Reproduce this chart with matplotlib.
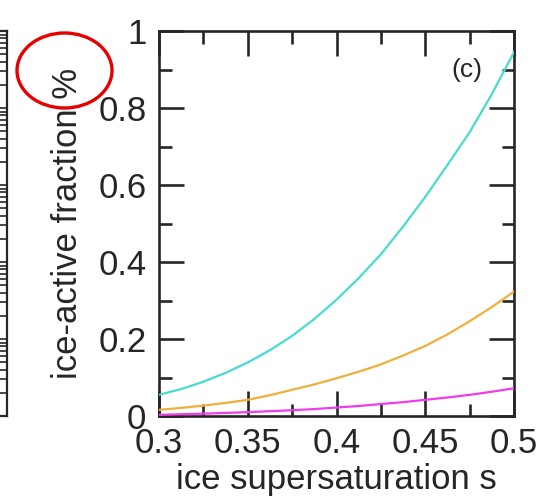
import matplotlib.pyplot as plt
from matplotlib.patches import Ellipse
from matplotlib.ticker import LogLocator, NullFormatter

plt.rcParams["font.family"] = ["Liberation Sans", "DejaVu Sans"]

# values
s_values = [0.30, 0.3125, 0.325, 0.3375, 0.35, 0.3625, 0.375, 0.3875, 0.40,
            0.4125, 0.425, 0.4375, 0.45, 0.4625, 0.475, 0.4875, 0.50]
frac_cyan = [0.055, 0.070, 0.089, 0.112, 0.139, 0.171, 0.208, 0.252, 0.302,
             0.358, 0.420, 0.492, 0.569, 0.652, 0.737, 0.836, 0.945]
frac_orange = [0.016, 0.021, 0.027, 0.034, 0.042, 0.054, 0.068, 0.082, 0.098,
               0.115, 0.134, 0.157, 0.182, 0.212, 0.246, 0.283, 0.323]
frac_magenta = [0.003, 0.0045, 0.006, 0.008, 0.010, 0.0125, 0.015, 0.018, 0.022,
                0.026, 0.031, 0.036, 0.042, 0.048, 0.055, 0.063, 0.072]

x_ticks = [0.3, 0.35, 0.4, 0.45, 0.5]
x_ticklabels = ["0.3", "0.35", "0.4", "0.45", "0.5"]
y_ticks = [0, 0.2, 0.4, 0.6, 0.8, 1.0]
y_ticklabels = ["0", "0.2", "0.4", "0.6", "0.8", "1"]

ink = "#262626"
W, H = 559, 503

fig = plt.figure(figsize=(W / 100, H / 100), dpi=100)

# main panel
left, right, top, bottom = 159, 514, 31, 416
ax = fig.add_axes([left / W, 1 - bottom / H, (right - left) / W, (bottom - top) / H])

ax.plot(s_values, frac_cyan, color="#48DCCB", lw=1.6, zorder=3)
ax.plot(s_values, frac_orange, color="#F0AF3C", lw=1.6, zorder=3)
ax.plot(s_values, frac_magenta, color="#F03CEB", lw=1.6, zorder=3)

ax.set_xlim(0.3, 0.5)
ax.set_ylim(0, 1)
ax.set_xticks(x_ticks)
ax.set_xticklabels(x_ticklabels)
ax.set_yticks(y_ticks)
ax.set_yticklabels(y_ticklabels)
ax.set_xticks([0.325, 0.375, 0.425, 0.475], minor=True)
ax.set_yticks([0.1, 0.3, 0.5, 0.7, 0.9], minor=True)

ax.tick_params(which="both", direction="in", top=True, right=True,
               color=ink, width=1.9, labelsize=25, labelcolor=ink)
ax.tick_params(which="major", length=18)
ax.tick_params(which="minor", length=9)
ax.tick_params(axis="x", pad=8)
ax.tick_params(axis="y", pad=9)

for spine in ax.spines.values():
    spine.set_color(ink)
    spine.set_linewidth(1.9)

ax.set_xlabel("ice supersaturation s", fontsize=25, color=ink, labelpad=2)
ax.set_ylabel("ice-active fraction %", fontsize=25, color=ink, labelpad=10)

ax.text(467 / W, 1 - 70 / H, "(c)", transform=fig.transFigure, fontsize=19,
        color=ink, ha="center", va="center")

# edge of the neighbouring panel, mostly cut off
ax_prev = fig.add_axes([-0.3, 1 - bottom / H, 0.3 + 7 / W, (bottom - top) / H])
ax_prev.set_yscale("log")
ax_prev.set_ylim(1e-5, 1)
ax_prev.set_xticks([])
ax_prev.yaxis.set_major_locator(LogLocator(base=10, numticks=10))
ax_prev.yaxis.set_minor_locator(LogLocator(base=10, subs=range(2, 10), numticks=10))
ax_prev.yaxis.set_minor_formatter(NullFormatter())
ax_prev.tick_params(which="both", direction="in", left=False, right=True,
                    labelleft=False, color=ink, width=1.2)
ax_prev.tick_params(which="major", length=12)
ax_prev.tick_params(which="minor", length=7)
for spine in ax_prev.spines.values():
    spine.set_color(ink)
    spine.set_linewidth(1.6)

# red highlight around the % sign
fig.add_artist(Ellipse((64.5 / W, 1 - 70.5 / H), 95 / W, 75 / H,
                       transform=fig.transFigure, fill=False,
                       edgecolor="#E60000", linewidth=2.4))

fig.savefig("out.png", dpi=100)
